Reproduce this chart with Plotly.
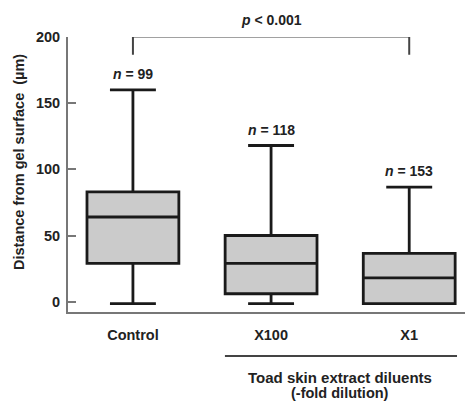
import plotly.graph_objects as go

categories = ["Control", "X100", "X1"]
n_labels = ["99", "118", "153"]
lower_whisker = [-1.5, -1.5, -1.5]
q1 = [29, 6, -1.5]
median = [64, 29, 18]
q3 = [83, 50, 36.5]
upper_whisker = [160, 118, 86.5]
y_ticks = [0, 50, 100, 150, 200]

FONT = "Arial, Liberation Sans, sans-serif"
Y0, Y1 = -7.8, 200.0
TXT = "#222"


def ypaper(v):
    return (v - Y0) / (Y1 - Y0)


fig = go.Figure()
fig.add_trace(go.Box(
    x=categories, q1=q1, median=median, q3=q3,
    lowerfence=lower_whisker, upperfence=upper_whisker,
    fillcolor="#cbcbcb", line=dict(color="#1a1a1a", width=2.8),
    width=0.665, whiskerwidth=0.5, boxpoints=False, hoverinfo="skip",
    showlegend=False,
))

for c, n, uw in zip(categories, n_labels, upper_whisker):
    fig.add_annotation(x=c, y=uw, yshift=16, yanchor="middle", xanchor="center",
                       text=f"<i>n</i> = {n}", showarrow=False,
                       font=dict(family=FONT, size=14, color=TXT, weight="bold"))

# significance bracket
fig.add_shape(type="path", xref="x", yref="y",
              path="M 0,186.5 L 0,200.3 L 2,200.3 L 2,186.5",
              line=dict(color="#444", width=2))
fig.add_annotation(x=1, xref="x", y=ypaper(200.3), yref="paper", yshift=17,
                   yanchor="middle", xanchor="center",
                   text="<i>p</i> < 0.001", showarrow=False,
                   font=dict(family=FONT, size=14, color=TXT, weight="bold"))

# group line and label
fig.add_shape(type="line", xref="x", yref="paper", x0=0.666, x1=2.346, y0=-0.16, y1=-0.16,
              line=dict(color="#444", width=2))
fig.add_annotation(x=1.5, xref="x", y=-0.237, yref="paper", yanchor="middle", xanchor="center",
                   text="Toad skin extract diluents", showarrow=False,
                   font=dict(family=FONT, size=15, color=TXT, weight="bold"))
fig.add_annotation(x=1.5, xref="x", y=-0.293, yref="paper", yanchor="middle", xanchor="center",
                   text="(-fold dilution)", showarrow=False,
                   font=dict(family=FONT, size=14.5, color=TXT, weight="bold"))

# y-axis title
fig.add_annotation(x=-0.122, xref="paper", y=0.545, yref="paper", textangle=-90,
                   xanchor="center", yanchor="middle",
                   text="Distance from gel surface  (µm)", showarrow=False,
                   font=dict(family=FONT, size=14.5, color=TXT, weight="bold"))

# page body has an 8px default margin, so the figure is sized to fit the window
fig.update_layout(
    width=465, height=395,
    margin=dict(l=60, r=3, t=29, b=91),
    plot_bgcolor="white", paper_bgcolor="white",
    font=dict(family=FONT, color=TXT),
    xaxis=dict(range=[-0.47, 2.44], showline=True, linecolor="#777", linewidth=2,
               ticks="", showgrid=False, zeroline=False, ticklabelstandoff=9,
               automargin=False,
               tickfont=dict(family=FONT, size=14.5, color=TXT, weight="bold")),
    yaxis=dict(range=[Y0, Y1], tickvals=y_ticks, showline=True, linecolor="#777", linewidth=2,
               ticks="inside", ticklen=8, tickcolor="#777", tickwidth=2,
               showgrid=False, zeroline=False, ticklabelstandoff=3, automargin=False,
               tickfont=dict(family=FONT, size=14.5, color=TXT, weight="bold")),
)

fig.write_html("out.html")
